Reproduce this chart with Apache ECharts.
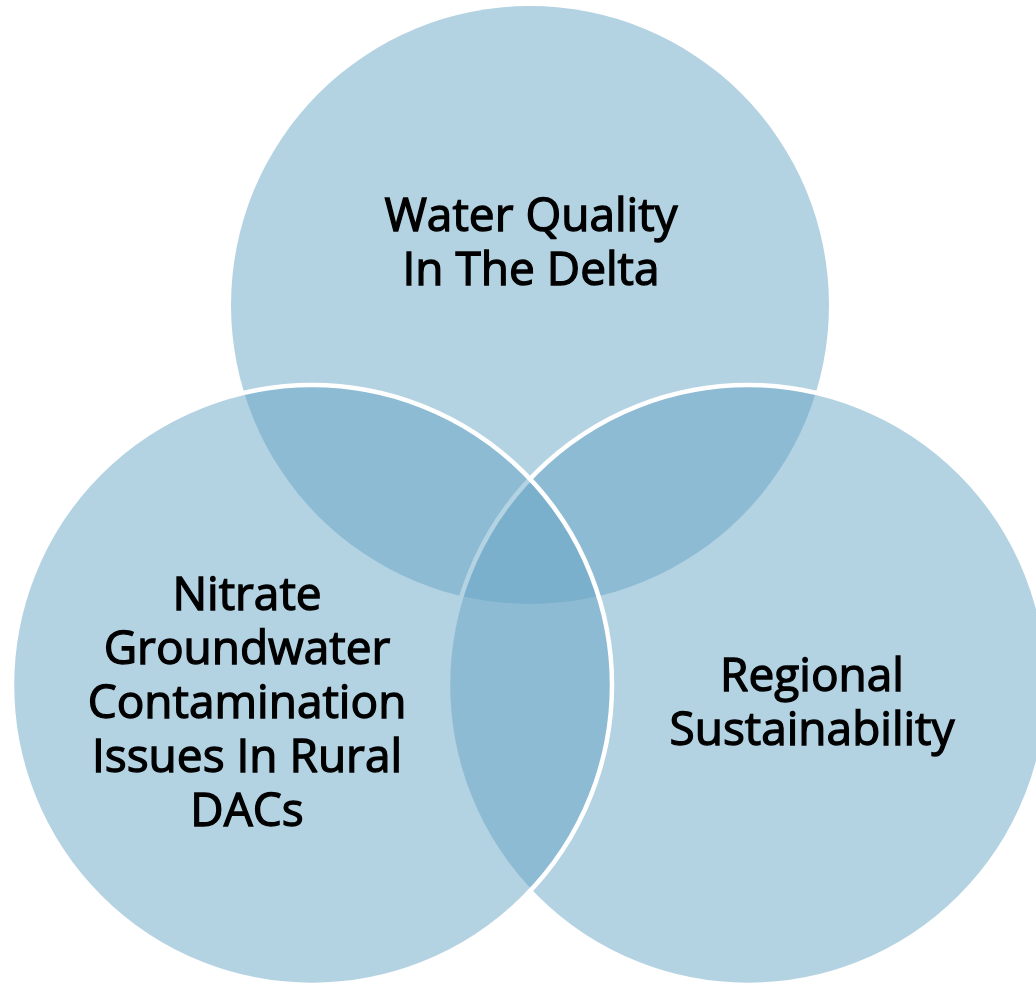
<!DOCTYPE html>
<html>
<head>
<meta charset="utf-8">
<script src="https://cdn.jsdelivr.net/npm/echarts@6/dist/echarts.min.js"></script>
<style>html,body{margin:0;padding:0;background:#fff}#c{width:1036px;height:984px}</style>
</head>
<body>
<div id="c"></div>
<script>
// Sets of the Venn diagram (drawn in this order: top, right, left)
var setNames = ['Water Quality\nIn The Delta', 'Regional\nSustainability', 'Nitrate\nGroundwater\nContamination\nIssues In Rural\nDACs'];
var centerX = [530, 748, 312];
var centerY = [305, 685, 685];
var radius = [299, 300, 300];
var labelX = [531, 812, 247];
var labelY = [245, 705, 705];
var hasBorder = [false, true, true];

var chart = echarts.init(document.getElementById('c'), null, {renderer: 'canvas'});
var data = setNames.map(function (n, i) {
  return [centerX[i], centerY[i], radius[i], labelX[i], labelY[i], i];
});
chart.setOption({
  animation: false,
  grid: {left: 0, right: 0, top: 0, bottom: 0},
  xAxis: {type: 'value', min: 0, max: 1036, show: false},
  yAxis: {type: 'value', min: 0, max: 984, inverse: true, show: false},
  series: [{
    type: 'custom',
    coordinateSystem: 'cartesian2d',
    data: data,
    renderItem: function (params, api) {
      var c = api.coord([api.value(0), api.value(1)]);
      var r = api.size([api.value(2), 0])[0];
      var idx = api.value(5);
      return {
        type: 'circle',
        shape: {cx: c[0], cy: c[1], r: r},
        style: {
          fill: 'rgba(104,165,198,0.5)',
          stroke: hasBorder[idx] ? '#ffffff' : null,
          lineWidth: hasBorder[idx] ? 4.5 : 0
        }
      };
    },
    z: 1
  }, {
    type: 'custom',
    coordinateSystem: 'cartesian2d',
    data: data,
    renderItem: function (params, api) {
      var p = api.coord([api.value(3), api.value(4)]);
      var idx = api.value(5);
      return {
        type: 'text',
        x: p[0], y: p[1],
        style: {
          text: setNames[idx],
          fill: '#000',
          stroke: '#000',
          lineWidth: 1.3,
          font: '46px "Open Sans"',
          lineHeight: 54,
          align: 'center',
          verticalAlign: 'middle'
        }
      };
    },
    z: 2
  }]
});
</script>
</body>
</html>
